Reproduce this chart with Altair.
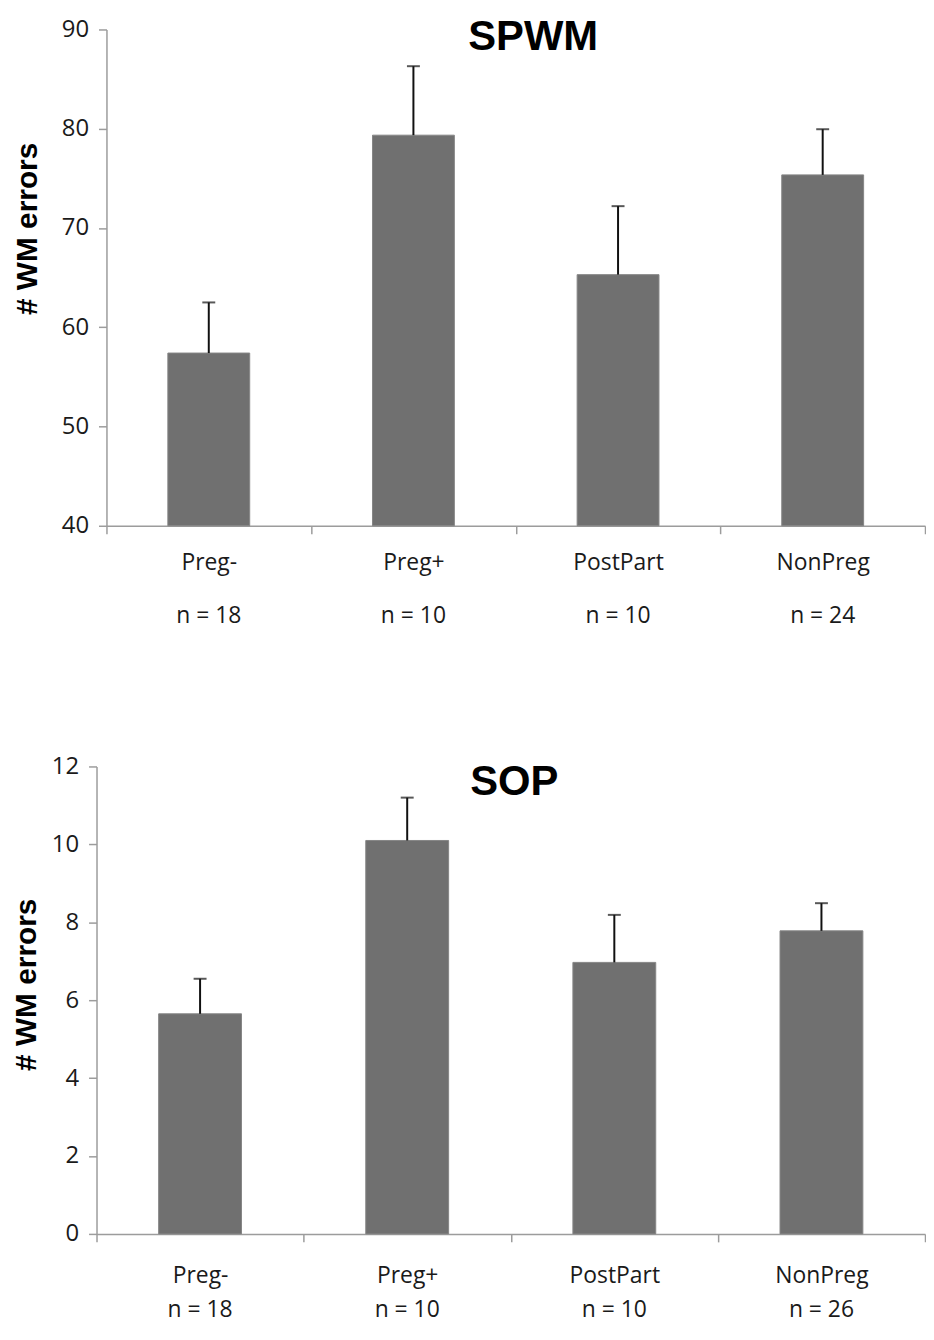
import altair as alt
import pandas as pd

categories = ["Preg-", "Preg+", "PostPart", "NonPreg"]

spwm_mean = [57.4, 79.35, 65.3, 75.35]
spwm_err = [5.1, 6.95, 6.9, 4.6]
spwm_n = [18, 10, 10, 24]

sop_mean = [5.65, 10.1, 6.97, 7.78]
sop_err = [0.9, 1.1, 1.22, 0.71]
sop_n = [18, 10, 10, 26]

FONT = "Open Sans"
BOLD_FONT = "Liberation Sans"
AXIS_GREY = "#9c9c9c"
BAR = "#707070"
PANEL_W = 833


def panel(title, means, errs, ns, ymin, ymax, yticks, height, x_start,
          title_x, title_y, ytitle_x, ytitle_y, xlab_pad, n_off):
    df = pd.DataFrame({
        "cat": categories,
        "mean": means,
        "top": [m + e for m, e in zip(means, errs)],
        "base": [ymin] * len(categories),
        "nlab": [f"n = {n}" for n in ns],
    })
    yscale = alt.Scale(domain=[ymin, ymax], nice=False, zero=False)
    xscale = alt.Scale(paddingInner=0, paddingOuter=0,
                       range=[x_start, PANEL_W])
    xenc = alt.X("cat:N", sort=categories, scale=xscale,
                 axis=alt.Axis(title=None, labelAngle=0, labelFont=FONT,
                               labelFontSize=23, labelColor="#1a1a1a",
                               labelPadding=xlab_pad, tickBand="extent",
                               tickSize=8, tickColor=AXIS_GREY, tickWidth=1.5,
                               domainColor=AXIS_GREY, domainWidth=1.5))
    yaxis = alt.Axis(title="# WM errors", values=yticks, grid=False,
                     offset=-x_start,
                     titleFont=BOLD_FONT, titleFontSize=30,
                     titleFontWeight="bold",
                     titleColor="#000000", titleX=ytitle_x, titleY=ytitle_y,
                     titleBaseline="alphabetic", titleAlign="center",
                     labelFont=FONT, labelFontSize=24, labelColor="#1a1a1a",
                     labelPadding=10, tickSize=8, tickColor=AXIS_GREY,
                     tickWidth=1.5, domainColor=AXIS_GREY, domainWidth=1.5)
    base = alt.Chart(df)
    bars = base.mark_bar(color=BAR, width=alt.RelativeBandSize(0.4),
                         stroke="#858585", strokeWidth=1).encode(
        x=xenc,
        y=alt.Y("mean:Q", scale=yscale, axis=yaxis),
        y2="base:Q",
    )
    rules = base.mark_rule(color="#111111", strokeWidth=2).encode(
        x=alt.X("cat:N", sort=categories),
        y=alt.Y("mean:Q", scale=yscale),
        y2="top:Q",
    )
    caps = base.mark_tick(color="#111111", thickness=2, size=13).encode(
        x=alt.X("cat:N", sort=categories),
        y=alt.Y("top:Q", scale=yscale),
    )
    nlabels = base.mark_text(font=FONT, fontSize=23, color="#1a1a1a",
                             baseline="top").encode(
        x=alt.X("cat:N", sort=categories),
        y=alt.value(height + n_off),
        text="nlab:N",
    )
    tdf = pd.DataFrame({"t": [title]})
    ttl = alt.Chart(tdf).mark_text(font=BOLD_FONT, fontSize=42,
                                   fontWeight="bold", color="#000000",
                                   baseline="alphabetic").encode(
        x=alt.value(title_x), y=alt.value(title_y), text="t:N")
    spacer = alt.Chart(tdf).mark_rule(opacity=0).encode(
        x=alt.value(-89), y=alt.value(-18), y2=alt.value(-17))
    return alt.layer(bars, rules, caps, nlabels, ttl, spacer).properties(
        width=PANEL_W, height=height)


top = panel("SPWM", spwm_mean, spwm_err, spwm_n, 40, 90,
            [40, 50, 60, 70, 80, 90], 499, 10,
            439, 21, -70, 200, 18, 80)
bottom = panel("SOP", sop_mean, sop_err, sop_n, 0, 12,
               [0, 2, 4, 6, 8, 10, 12], 470, 0,
               420, 29, -61, 219, 23, 66)

chart = alt.vconcat(top, bottom, spacing=121).properties(
    padding={"left": 0, "top": 0, "right": 0, "bottom": 0}
).configure_view(stroke=None)

chart.save("out.html", embed_options={"renderer": "svg", "actions": False})
